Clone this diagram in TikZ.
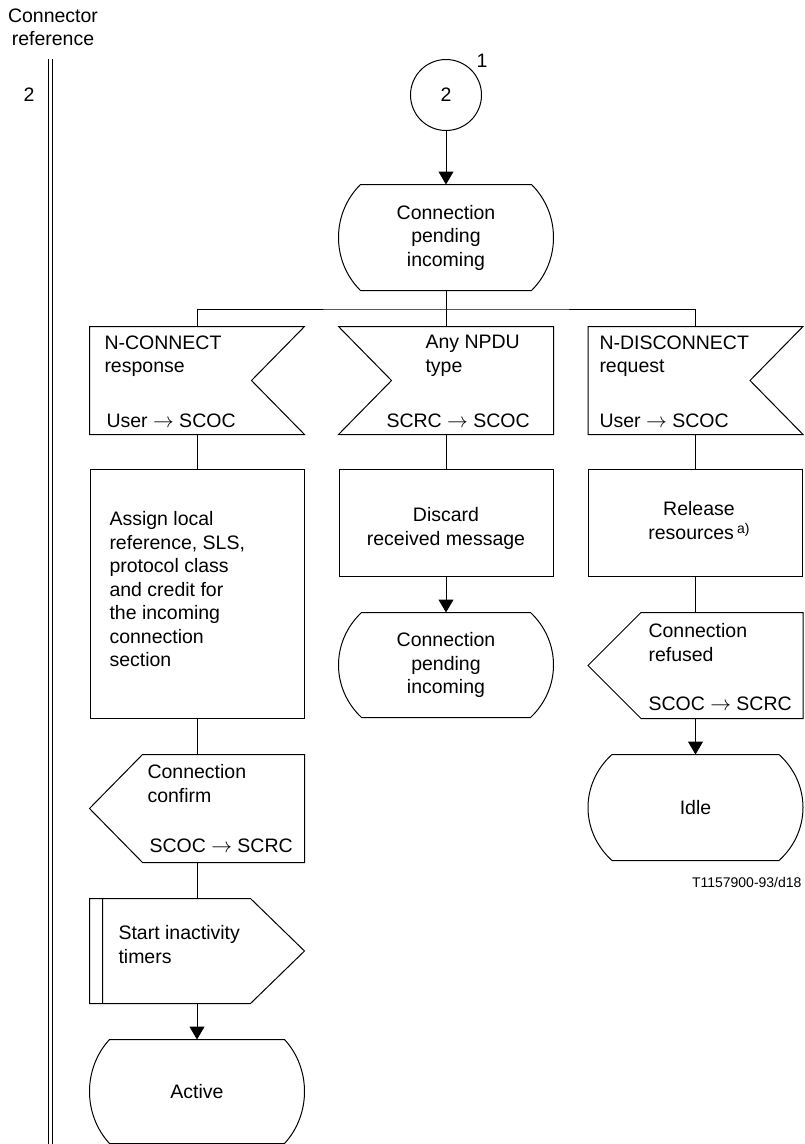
\documentclass[tikz,border=0pt]{standalone}
\usepackage{fontspec}
\setmainfont{Liberation Sans}
\usetikzlibrary{arrows.meta}

\newcommand\sdlfont{\fontsize{19.5pt}{23.5pt}\selectfont}
\newcommand\notefont{\fontsize{14pt}{17pt}\selectfont}
\newcommand\flowto{$\rightarrow$}

% SDL symbol outlines, drawn around an invisible rectangle node
% state: straight top/bottom, bulging sides (#2 = inset of the corners)
\newcommand\sdlstate[2]{%
  \draw ([xshift=#2pt]#1.north west) -- ([xshift=-#2pt]#1.north east)
    .. controls ([xshift={#2pt/3}, yshift=-29pt]#1.north east)
            and ([xshift={#2pt/3}, yshift=29pt]#1.south east)
    .. ([xshift=-#2pt]#1.south east) -- ([xshift=#2pt]#1.south west)
    .. controls ([xshift={-#2pt/3}, yshift=29pt]#1.south west)
            and ([xshift={-#2pt/3}, yshift=-29pt]#1.north west)
    .. cycle;}
% input with the notch on the right
\newcommand\sdlinputR[1]{%
  \draw (#1.north west) -- (#1.north east) -- ([xshift=-53pt]#1.east)
    -- (#1.south east) -- (#1.south west) -- cycle;}
% input with the notch on the left
\newcommand\sdlinputL[1]{%
  \draw (#1.north west) -- (#1.north east) -- (#1.south east)
    -- (#1.south west) -- ([xshift=53pt]#1.west) -- cycle;}
% output pointing left
\newcommand\sdloutputL[1]{%
  \draw ([xshift=53pt]#1.north west) -- (#1.north east) -- (#1.south east)
    -- ([xshift=53pt]#1.south west) -- (#1.west) -- cycle;}
% procedure call: pointing right, doubled left edge
\newcommand\sdlproc[1]{%
  \draw (#1.north west) -- ([xshift=-54pt]#1.north east) -- (#1.east)
    -- ([xshift=-54pt]#1.south east) -- (#1.south west) -- cycle
    ([xshift=13pt]#1.north west) -- ([xshift=13pt]#1.south west);}

\tikzset{
  box/.style={rectangle, inner sep=0pt, minimum width=214pt},
  txt/.style={inner sep=0pt, font=\sdlfont},
}

\begin{document}
\begin{tikzpicture}[x=1pt, y=-1pt, line width=1pt,
  >={Triangle[length=13pt,width=15pt]}]
\useasboundingbox (0,0) rectangle (804,1144);

% connector reference column
\node[txt, align=center, anchor=north] (hdr) at (53,8) {Connector\\reference};
\node[txt] (refno) at (29,95) {2};
\draw (48,59) -- (48,1144) (52.5,59) -- (52.5,1144);

% entry connector
\node[draw, circle, minimum size=71pt, inner sep=0pt, font=\sdlfont] (con) at (446,95) {2};
\node[txt, anchor=base] (page) at (482,67) {1};

% starting state
\node[box, minimum height=105pt] (s0) at (446,237.5) {};
\sdlstate{s0}{22}
\node[txt, align=center] (s0t) at (s0) {Connection\\pending\\incoming};

% inputs
\node[box, minimum height=107pt] (in1) at (197,380.5) {};
\node[box, minimum height=107pt] (in2) at (446,380.5) {};
\node[box, minimum height=107pt] (in3) at (695.5,380.5) {};
\sdlinputR{in1}
\sdlinputL{in2}
\sdlinputR{in3}
\node[txt, align=left, anchor=north west] (in1a) at (104,335) {N-CONNECT\\response};
\node[txt, anchor=base west] (in1b) at (106,427) {User \flowto\ SCOC};
\node[txt, align=left, anchor=north west] (in2a) at (425,335) {Any NPDU\\type};
\node[txt, anchor=base west] (in2b) at (386,427) {SCRC \flowto\ SCOC};
\node[txt, align=left, anchor=north west] (in3a) at (599,335) {N-DISCONNECT\\request};
\node[txt, anchor=base west] (in3b) at (599,427) {User \flowto\ SCOC};

% tasks
\node[box, draw, minimum height=249pt] (t1) at (197,593.5) {};
\node[box, draw, minimum height=107pt] (t2) at (446,522.5) {};
\node[box, draw, minimum height=107pt] (t3) at (695.5,522.5) {};
\node[txt, align=left, anchor=north west] (t1a) at (109,511)
  {Assign local\\reference, SLS,\\protocol class\\and credit for\\the incoming\\connection\\section};
\node[txt, align=center, anchor=north] (t2a) at (446,507) {Discard\\received message};
\node[txt, align=center, anchor=north] (t3a) at (699,501)
  {Release\\resources\,\raisebox{6pt}{\fontsize{14pt}{14pt}\selectfont a)}};

% middle branch: back to the same state
\node[box, minimum height=104pt] (s1) at (446,665) {};
\sdlstate{s1}{23}
\node[txt, align=center] (s1t) at (s1) {Connection\\pending\\incoming};

% right branch
\node[box, minimum height=105pt] (o3) at (695.5,665.5) {};
\sdloutputL{o3}
\node[txt, align=left, anchor=north west] (o3a) at (648,623) {Connection\\refused};
\node[txt, anchor=base west] (o3b) at (648,710) {SCOC \flowto\ SCRC};
\node[box, minimum height=105pt] (idle) at (695.5,807.5) {};
\sdlstate{idle}{24}
\node[txt] (idlet) at (idle) {Idle};
\node[txt, font=\notefont, anchor=base east] (fig) at (802,887) {T1157900-93/d18};

% left branch
\node[box, minimum height=107pt] (o1) at (197,808.5) {};
\sdloutputL{o1}
\node[txt, align=left, anchor=north west] (o1a) at (147,764) {Connection\\confirm};
\node[txt, anchor=base west] (o1b) at (149,852) {SCOC \flowto\ SCRC};
\node[box, minimum height=104pt] (p1) at (197,951) {};
\sdlproc{p1}
\node[txt, align=left, anchor=north west] (p1a) at (118,925) {Start inactivity\\timers};
\node[box, minimum height=103pt] (act) at (197,1091.5) {};
\sdlstate{act}{20}
\node[txt] (actt) at (act) {Active};

% connectors
\coordinate (bus) at (446,309);
\draw[->] (con) -- (s0);
\draw (s0) -- (bus);
\draw (in1.north) |- (bus) -| (in3.north);
\draw (bus) -- (in2.north);
\draw (in1) -- (t1);
\draw (in2) -- (t2);
\draw (in3) -- (t3);
\draw (t1) -- (o1);
\draw (o1) -- (p1);
\draw[->] (p1) -- (act);
\draw[->] (t2) -- (s1);
\draw (t3) -- (o3);
\draw[->] (o3) -- (idle);
\end{tikzpicture}
\end{document}
